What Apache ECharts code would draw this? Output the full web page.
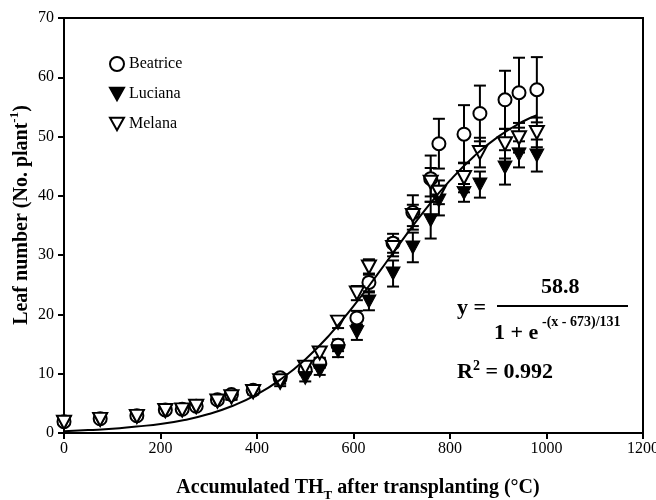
<!DOCTYPE html>
<html>
<head>
<meta charset="utf-8">
<script src="https://cdn.jsdelivr.net/npm/echarts@6/dist/echarts.min.js"></script>
<style>
  html, body { margin: 0; padding: 0; background: #fff; }
  #chart { width: 656px; height: 500px; }
</style>
</head>
<body>
<div id="chart"></div>
<script>
// accumulated thermal time of each sampling (°C)
const thermalTime = [0, 75, 151, 210, 245, 274, 318, 347, 392, 448, 500, 530, 568, 607, 632, 682, 723, 760, 777, 829, 862, 914, 943, 980];

const beatrice = [1.9, 2.4, 2.9, 3.9, 4.0, 4.5, 5.6, 6.5, 7.2, 9.3, 10.6, 11.8, 14.8, 19.4, 25.4, 32.0, 37.2, 42.9, 48.8, 50.4, 53.9, 56.2, 57.4, 57.9];
const beatriceErr = [0.2, 0.2, 0.3, 0.3, 0.3, 0.3, 0.4, 0.4, 0.5, 0.5, 0.6, 0.8, 1.0, 1.2, 1.5, 1.6, 2.9, 3.9, 4.2, 4.9, 4.7, 4.9, 5.9, 5.5];

const luciana = [1.7, 2.2, 2.7, 3.7, 3.8, 4.3, 5.3, 6.0, 6.9, 8.4, 9.3, 10.5, 13.8, 17.0, 22.2, 26.9, 31.3, 35.9, 39.2, 40.5, 41.9, 44.8, 47.0, 46.8];
const lucianaErr = [0.2, 0.2, 0.2, 0.3, 0.3, 0.3, 0.3, 0.4, 0.4, 0.5, 0.6, 0.7, 1.0, 1.3, 1.5, 2.2, 2.5, 3.1, 2.5, 1.5, 2.2, 2.9, 2.2, 2.7];

const melana = [1.8, 2.3, 2.8, 3.8, 3.9, 4.5, 5.4, 6.1, 7.0, 8.8, 11.1, 13.5, 18.7, 23.6, 28.0, 31.3, 36.7, 42.3, 40.6, 43.1, 47.3, 48.8, 49.8, 50.7];
const melanaErr = [0.2, 0.2, 0.2, 0.3, 0.3, 0.3, 0.3, 0.4, 0.4, 0.5, 0.6, 0.8, 1.0, 1.2, 1.3, 1.5, 1.8, 2.4, 2.0, 2.5, 2.5, 2.5, 2.5, 2.5];

// fitted logistic line
const fitX = [0, 50, 100, 150, 200, 250, 300, 350, 400, 450, 500, 550, 600, 650, 700, 750, 800, 850, 900, 950, 980];
const fitY = [0.3, 0.5, 0.7, 1.1, 1.5, 2.2, 3.2, 4.6, 6.5, 9.1, 12.4, 16.5, 21.4, 26.8, 32.4, 37.8, 42.6, 46.7, 50.0, 52.5, 53.6];

const xTicks = [0, 200, 400, 600, 800, 1000, 1200];
const yTicks = [0, 10, 20, 30, 40, 50, 60, 70];

const FONT = '"Liberation Serif", "Times New Roman", serif';
const DOWN_TRIANGLE = 'path://M0,0 L10,0 L5,9 Z';

const pairs = function (ys, errs) {
    return thermalTime.map(function (x, i) {
        return errs ? [x, ys[i], errs[i]] : [x, ys[i]];
    });
};

const errorBar = function (params, api) {
    const x = api.value(0);
    const y = api.value(1);
    const e = api.value(2);
    const top = api.coord([x, y + e]);
    const bot = api.coord([x, y - e]);
    const half = 6;
    const style = { stroke: '#000', lineWidth: 2 };
    return {
        type: 'group',
        children: [
            { type: 'line', shape: { x1: top[0], y1: top[1], x2: bot[0], y2: bot[1] }, style: style },
            { type: 'line', shape: { x1: top[0] - half, y1: top[1], x2: top[0] + half, y2: top[1] }, style: style },
            { type: 'line', shape: { x1: bot[0] - half, y1: bot[1], x2: bot[0] + half, y2: bot[1] }, style: style }
        ]
    };
};

const chart = echarts.init(document.getElementById('chart'));

const series = [];
[beatriceErr, lucianaErr, melanaErr].forEach(function (errs, k) {
    const ys = [beatrice, luciana, melana][k];
    series.push({
        type: 'custom',
        name: 'err' + k,
        renderItem: errorBar,
        data: pairs(ys, errs),
        encode: { x: 0, y: 1 },
        z: 2,
        silent: true
    });
});

series.push({
    type: 'scatter',
    name: 'Beatrice',
    data: pairs(beatrice),
    symbol: 'circle',
    symbolSize: 13,
    itemStyle: { color: '#fff', borderColor: '#000', borderWidth: 2, opacity: 1 },
    z: 3
});
series.push({
    type: 'scatter',
    name: 'Luciana',
    data: pairs(luciana),
    symbol: DOWN_TRIANGLE,
    symbolSize: [14, 13],
    itemStyle: { color: '#000', borderColor: '#000', borderWidth: 1, opacity: 1 },
    z: 3
});
series.push({
    type: 'scatter',
    name: 'Melana',
    data: pairs(melana),
    symbol: DOWN_TRIANGLE,
    symbolSize: [14, 13],
    itemStyle: { color: '#fff', borderColor: '#000', borderWidth: 2, opacity: 1 },
    z: 3
});
series.push({
    type: 'line',
    name: 'fit',
    data: fitX.map(function (x, i) { return [x, fitY[i]]; }),
    smooth: true,
    symbol: 'none',
    lineStyle: { color: '#000', width: 2 },
    z: 4,
    silent: true
});

const boldRich = {
    b: { font: 'bold 20px ' + FONT, fill: '#000', lineHeight: 28, verticalAlign: 'middle' },
    sub: { font: 'bold 13px ' + FONT, fill: '#000', lineHeight: 28, verticalAlign: 'bottom' },
    sup: { font: 'bold 13px ' + FONT, fill: '#000', lineHeight: 28, verticalAlign: 'top' }
};

chart.setOption({
    animation: false,
    backgroundColor: '#fff',
    grid: {
        left: 64, right: 13, top: 18, bottom: 67,
        containLabel: false,
        outerBoundsMode: 'none',
        show: true, borderColor: '#000', borderWidth: 2, backgroundColor: 'transparent'
    },
    legend: {
        data: ['Beatrice', 'Luciana', 'Melana'],
        orient: 'vertical',
        left: 109, top: 56, padding: 0,
        itemWidth: 14, itemHeight: 14, itemGap: 14, itemTextGap: 9,
        textStyle: { fontFamily: FONT, fontSize: 16, color: '#000' }
    },
    xAxis: {
        type: 'value',
        min: xTicks[0], max: xTicks[xTicks.length - 1], interval: 200,
        axisLine: { onZero: false, lineStyle: { color: '#000', width: 2 } },
        axisTick: { inside: false, length: 6, lineStyle: { color: '#000', width: 2 } },
        axisLabel: {
            fontFamily: FONT, fontSize: 16, color: '#000', margin: 8,
            formatter: function (v) { return String(v); }
        },
        splitLine: { show: false }
    },
    yAxis: {
        type: 'value',
        min: yTicks[0], max: yTicks[yTicks.length - 1], interval: 10,
        axisLine: { onZero: false, lineStyle: { color: '#000', width: 2 } },
        axisTick: { inside: false, length: 6, lineStyle: { color: '#000', width: 2 } },
        axisLabel: {
            fontFamily: FONT, fontSize: 16, color: '#000', margin: 10,
            formatter: function (v) { return String(v); }
        },
        splitLine: { show: false }
    },
    graphic: [
        {
            type: 'text', x: 358, y: 488,
            style: {
                text: '{b|Accumulated TH}{sub|T}{b| after transplanting (°C)}',
                rich: boldRich, align: 'center', verticalAlign: 'middle'
            }
        },
        {
            type: 'text', x: 22, y: 215, rotation: Math.PI / 2,
            style: {
                text: '{b|Leaf number (No. plant}{sup|-1}{b|)}',
                rich: boldRich, align: 'center', verticalAlign: 'middle'
            }
        },
        { type: 'text', left: 457, top: 297, style: { text: 'y =', font: 'bold 22px ' + FONT, fill: '#000' } },
        { type: 'text', left: 541, top: 276, style: { text: '58.8', font: 'bold 22px ' + FONT, fill: '#000' } },
        { type: 'rect', shape: { x: 497, y: 305, width: 131, height: 2 }, style: { fill: '#000' } },
        { type: 'text', left: 494, top: 322, style: { text: '1 + e', font: 'bold 22px ' + FONT, fill: '#000' } },
        { type: 'text', left: 542, top: 315, style: { text: '-(x - 673)/131', font: 'bold 14px ' + FONT, fill: '#000' } },
        {
            type: 'text', left: 457, top: 359,
            style: {
                text: '{b|R}{s|2}{b| = 0.992}',
                rich: {
                    b: { font: 'bold 22px ' + FONT, fill: '#000', lineHeight: 26, verticalAlign: 'middle' },
                    s: { font: 'bold 14px ' + FONT, fill: '#000', lineHeight: 26, verticalAlign: 'top' }
                }
            }
        }
    ],
    series: series
});
</script>
</body>
</html>
